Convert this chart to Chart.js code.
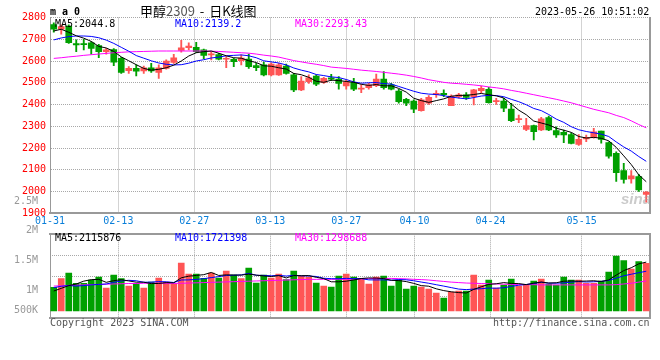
<!DOCTYPE html>
<html lang="zh-CN">
<head>
    <meta charset="UTF-8">
    <title>甲醇2309 - 日K线图</title>
    <style>
        body { margin: 0; background: #fff; }
        #box { position: relative; width: 660px; height: 360px; overflow: hidden;
               font-family: "DejaVu Sans Mono", monospace; font-size: 10px; line-height: 12px; }
        #box canvas { position: absolute; left: 0; }
        .txt { position: absolute; white-space: pre; }
    </style>
</head>
<body>
<div id="box">
    <canvas id="priceChart" width="660" height="232" style="top:0"></canvas>
    <canvas id="volChart" width="660" height="170" style="top:190px"></canvas>
    <div class="txt" style="left:50px;top:6px;font-weight:bold">m a 0</div>
    <div class="txt" style="left:140px;top:3px;font-family:'Noto Sans CJK SC';font-size:13px;line-height:15px;word-spacing:2px">甲醇<span style="color:#555">2309</span> - 日K线图</div>
    <div class="txt" style="left:535px;top:6px">2023-05-26 10:51:02</div>
    <div class="txt" style="left:50px;top:317px;color:#555">Copyright 2023 SINA.COM</div>
    <div class="txt" style="left:493px;top:317px;color:#555">http://finance.sina.com.cn</div>
    <div class="txt" style="left:621px;top:190px;font:italic bold 15px 'Liberation Sans';color:rgba(160,160,160,0.55)">sina</div>
</div>

<script src="https://cdn.jsdelivr.net/npm/chart.js@4/dist/chart.umd.min.js"></script>
<script>
    // trading days shown on the chart
    const dates = [
        '01-31', '02-01', '02-02', '02-03', '02-06', '02-07', '02-08', '02-09', '02-10', '02-13',
        '02-14', '02-15', '02-16', '02-17', '02-20', '02-21', '02-22', '02-23', '02-24', '02-27',
        '02-28', '03-01', '03-02', '03-03', '03-06', '03-07', '03-08', '03-09', '03-10', '03-13',
        '03-14', '03-15', '03-16', '03-17', '03-20', '03-21', '03-22', '03-23', '03-24', '03-27',
        '03-28', '03-29', '03-30', '03-31', '04-03', '04-04', '04-06', '04-07', '04-10', '04-11',
        '04-12', '04-13', '04-14', '04-17', '04-18', '04-19', '04-20', '04-21', '04-24', '04-25',
        '04-26', '04-27', '04-28', '05-04', '05-05', '05-08', '05-09', '05-10', '05-11', '05-12',
        '05-15', '05-16', '05-17', '05-18', '05-19', '05-22', '05-23', '05-24', '05-25', '05-26'
    ];

    const open = [
        2768, 2746, 2761, 2680, 2680, 2683, 2671, 2643, 2652, 2612,
        2556, 2566, 2554, 2569, 2548, 2566, 2594, 2649, 2661, 2663,
        2651, 2628, 2629, 2608, 2608, 2602, 2609, 2579, 2582, 2536,
        2536, 2577, 2536, 2467, 2505, 2531, 2502, 2523, 2517, 2485,
        2502, 2471, 2478, 2487, 2517, 2490, 2462, 2424, 2416, 2372,
        2406, 2445, 2451, 2395, 2436, 2444, 2436, 2464, 2470, 2413,
        2416, 2379, 2330, 2286, 2303, 2283, 2340, 2280, 2272, 2262,
        2217, 2242, 2249, 2278, 2225, 2176, 2096, 2058, 2069, 1987
    ];
    const high = [
        2776, 2766, 2766, 2697, 2700, 2689, 2677, 2658, 2657, 2617,
        2574, 2582, 2577, 2589, 2582, 2605, 2631, 2695, 2684, 2686,
        2655, 2643, 2635, 2620, 2612, 2628, 2632, 2589, 2595, 2592,
        2589, 2586, 2543, 2528, 2536, 2536, 2525, 2539, 2528, 2513,
        2520, 2490, 2497, 2540, 2551, 2497, 2470, 2429, 2421, 2429,
        2441, 2464, 2467, 2444, 2451, 2455, 2470, 2485, 2479, 2429,
        2429, 2406, 2352, 2337, 2306, 2341, 2347, 2298, 2283, 2270,
        2262, 2260, 2291, 2278, 2229, 2183, 2130, 2096, 2079, 2000
    ];
    const low = [
        2732, 2723, 2681, 2643, 2651, 2631, 2615, 2631, 2579, 2543,
        2543, 2531, 2543, 2548, 2520, 2562, 2589, 2641, 2651, 2638,
        2611, 2605, 2605, 2569, 2574, 2582, 2566, 2556, 2531, 2531,
        2534, 2540, 2459, 2464, 2497, 2487, 2497, 2510, 2471, 2471,
        2464, 2455, 2471, 2482, 2471, 2467, 2406, 2395, 2363, 2370,
        2401, 2433, 2436, 2395, 2429, 2424, 2398, 2455, 2406, 2401,
        2367, 2321, 2317, 2280, 2237, 2280, 2280, 2249, 2225, 2219,
        2212, 2229, 2245, 2222, 2153, 2046, 2038, 2038, 2000, 1951
    ];
    const close = [
        2746, 2758, 2684, 2674, 2675, 2658, 2643, 2651, 2595, 2548,
        2566, 2553, 2569, 2554, 2569, 2600, 2615, 2661, 2669, 2643,
        2626, 2632, 2609, 2612, 2597, 2614, 2574, 2569, 2536, 2586,
        2582, 2543, 2467, 2508, 2523, 2493, 2520, 2516, 2497, 2504,
        2471, 2476, 2490, 2517, 2478, 2471, 2413, 2406, 2379, 2421,
        2433, 2451, 2445, 2439, 2444, 2433, 2467, 2474, 2409, 2418,
        2383, 2326, 2335, 2303, 2275, 2334, 2283, 2260, 2260, 2221,
        2240, 2249, 2275, 2240, 2163, 2087, 2056, 2072, 2007, 1998
    ];

    const priceMa5 = [
        2738, 2746, 2732, 2716, 2705, 2690, 2667, 2660, 2644, 2619,
        2601, 2583, 2566, 2558, 2562, 2569, 2581, 2600, 2623, 2638,
        2643, 2646, 2636, 2624, 2615, 2613, 2601, 2593, 2578, 2576,
        2569, 2563, 2543, 2537, 2525, 2507, 2502, 2512, 2510, 2506,
        2502, 2493, 2488, 2492, 2486, 2486, 2474, 2457, 2429, 2418,
        2410, 2418, 2426, 2438, 2442, 2442, 2446, 2451, 2445, 2440,
        2430, 2402, 2374, 2353, 2324, 2315, 2306, 2291, 2282, 2272,
        2253, 2246, 2249, 2245, 2233, 2203, 2164, 2124, 2077, 2045
    ];
    const priceMa10 = [
        2697, 2706, 2712, 2715, 2715, 2713, 2707, 2696, 2681, 2663,
        2645, 2625, 2613, 2601, 2591, 2585, 2582, 2583, 2590, 2600,
        2606, 2614, 2618, 2624, 2626, 2628, 2624, 2615, 2601, 2596,
        2591, 2582, 2568, 2558, 2550, 2538, 2533, 2527, 2524, 2515,
        2504, 2498, 2500, 2501, 2496, 2494, 2483, 2472, 2461, 2452,
        2448, 2446, 2441, 2434, 2430, 2426, 2432, 2439, 2442, 2441,
        2436, 2424, 2413, 2399, 2382, 2372, 2354, 2333, 2318, 2298,
        2284, 2276, 2270, 2264, 2253, 2228, 2205, 2186, 2161, 2139
    ];
    const priceMa30 = [
        2612, 2615, 2619, 2622, 2626, 2629, 2632, 2635, 2638, 2640,
        2642, 2643, 2644, 2645, 2646, 2646, 2646, 2646, 2646, 2646,
        2646, 2645, 2644, 2642, 2640, 2638, 2636, 2632, 2627, 2623,
        2618, 2610, 2602, 2596, 2590, 2585, 2579, 2572, 2569, 2566,
        2562, 2558, 2555, 2552, 2548, 2544, 2540, 2535, 2529, 2522,
        2514, 2508, 2502, 2498, 2496, 2493, 2490, 2486, 2481, 2477,
        2472, 2465, 2459, 2452, 2445, 2438, 2431, 2424, 2416, 2408,
        2398, 2388, 2378, 2370, 2362, 2350, 2340, 2325, 2308, 2293
    ];

    const volume = [
        1025000, 1400000, 1645000, 1198000, 1198000, 1342000, 1472000, 996000, 1558000, 1400000,
        1082000, 1198000, 996000, 1255000, 1429000, 1255000, 1169000, 2078000, 1602000, 1602000,
        1414000, 1645000, 1429000, 1732000, 1558000, 1400000, 1861000, 1212000, 1558000, 1429000,
        1602000, 1356000, 1732000, 1515000, 1472000, 1212000, 1082000, 1039000, 1515000, 1602000,
        1472000, 1400000, 1169000, 1472000, 1515000, 1082000, 1342000, 952000, 1082000, 1039000,
        952000, 779000, 563000, 823000, 866000, 866000, 1558000, 1126000, 1342000, 996000,
        1126000, 1385000, 1082000, 1126000, 1299000, 1385000, 1169000, 1126000, 1472000, 1342000,
        1342000, 1198000, 1198000, 1299000, 1688000, 2381000, 2179000, 1818000, 2136000, 2064000
    ];
    const volMa5 = [
        866000, 980000, 1100000, 1170000, 1293000, 1357000, 1371000, 1241000, 1313000, 1354000,
        1302000, 1247000, 1247000, 1186000, 1192000, 1227000, 1221000, 1437000, 1507000, 1541000,
        1573000, 1668000, 1538000, 1564000, 1556000, 1553000, 1596000, 1553000, 1518000, 1492000,
        1532000, 1431000, 1535000, 1527000, 1535000, 1457000, 1403000, 1264000, 1264000, 1290000,
        1342000, 1406000, 1432000, 1423000, 1406000, 1328000, 1316000, 1273000, 1195000, 1099000,
        1073000, 961000, 883000, 831000, 797000, 779000, 935000, 1048000, 1152000, 1178000,
        1230000, 1195000, 1186000, 1143000, 1204000, 1255000, 1212000, 1221000, 1290000, 1299000,
        1290000, 1296000, 1310000, 1276000, 1345000, 1553000, 1749000, 1873000, 2040000, 2116000
    ];
    const volMa10 = [
        1010000, 1070000, 1100000, 1080000, 1100000, 1130000, 1150000, 1170000, 1240000, 1300000,
        1329000, 1309000, 1244000, 1250000, 1273000, 1264000, 1234000, 1342000, 1346000, 1367000,
        1400000, 1445000, 1488000, 1536000, 1548000, 1563000, 1632000, 1546000, 1541000, 1524000,
        1543000, 1514000, 1544000, 1522000, 1514000, 1495000, 1417000, 1400000, 1395000, 1413000,
        1400000, 1404000, 1348000, 1344000, 1348000, 1335000, 1361000, 1352000, 1309000, 1253000,
        1201000, 1138000, 1078000, 1013000, 948000, 926000, 948000, 965000, 991000, 987000,
        1005000, 1065000, 1117000, 1147000, 1191000, 1243000, 1204000, 1204000, 1217000, 1251000,
        1273000, 1254000, 1266000, 1283000, 1322000, 1422000, 1523000, 1592000, 1658000, 1721000
    ];
    const volMa30 = [
        1080000, 1090000, 1110000, 1120000, 1130000, 1140000, 1150000, 1160000, 1170000, 1180000,
        1190000, 1190000, 1200000, 1200000, 1200000, 1200000, 1190000, 1200000, 1210000, 1220000,
        1230000, 1240000, 1250000, 1260000, 1270000, 1280000, 1290000, 1300000, 1310000, 1320000,
        1330000, 1340000, 1350000, 1360000, 1370000, 1370000, 1370000, 1370000, 1370000, 1370000,
        1380000, 1390000, 1400000, 1410000, 1410000, 1410000, 1400000, 1390000, 1370000, 1360000,
        1340000, 1310000, 1280000, 1250000, 1230000, 1210000, 1200000, 1190000, 1180000, 1170000,
        1160000, 1150000, 1150000, 1140000, 1140000, 1130000, 1130000, 1130000, 1130000, 1130000,
        1130000, 1130000, 1130000, 1130000, 1130000, 1140000, 1170000, 1200000, 1250000, 1299000
    ];

    const dateTicks = ['01-31', '02-13', '02-27', '03-13', '03-27', '04-10', '04-24', '05-15'];
    const volTicks = [500000, 1000000, 1500000, 2000000, 2500000];
    const volTickLabels = ['500K', '1M', '1.5M', '2M', '2.5M'];

    const maNames = ['MA5', 'MA10', 'MA30'];
    const priceMaNow = ['2044.8', '2139.2', '2293.43'];
    const volMaNow = ['2115876', '1721398', '1298688'];

    const RED = '#ff5555';
    const GREEN = '#00a000';
    const GRID = '#a8a8a8';
    const FRAME = '#999999';
    const maColors = ['#000000', '#0000ff', '#ff00ff'];

    const n = dates.length;
    const candleColor = close.map((c, i) => c >= open[i] ? RED : GREEN);
    const pts = arr => arr.map((v, i) => ({ x: i, y: v }));

    Chart.defaults.font.family = '"DejaVu Sans Mono", monospace';
    Chart.defaults.font.size = 10;

    // legend texts across the top of each panel
    function addLegend(values, top) {
        const box = document.getElementById('box');
        maNames.forEach((name, k) => {
            const d = document.createElement('div');
            d.className = 'txt';
            d.style.left = (55 + k * 120) + 'px';
            d.style.top = top + 'px';
            d.style.color = maColors[k];
            d.textContent = name + ':' + values[k];
            box.appendChild(d);
        });
    }
    addLegend(priceMaNow, 18);
    addLegend(volMaNow, 232);

    function maLine(values, color, axis) {
        return {
            type: 'line', data: pts(values), yAxisID: axis,
            borderColor: color, borderWidth: 1, pointRadius: 0, tension: 0, order: 0
        };
    }

    // Sina spreads the date grid over n-1 steps while the bars take n slots
    function dateGrid(scale) {
        scale.ticks = dateTicks.map(d => ({ value: dates.indexOf(d) * n / (n - 1) - 0.5 }));
    }

    function xAxis(showLabels, height) {
        return {
            type: 'linear', min: -0.5, max: n - 0.5, offset: false,
            grid: { offset: false, color: GRID, drawTicks: false },
            border: { color: FRAME, width: 2, dash: [1, 1] },
            ticks: {
                display: showLabels, color: '#0a7fd9', padding: 2, autoSkip: false, maxRotation: 0,
                callback: (v, i) => dateTicks[i]
            },
            afterBuildTicks: dateGrid,
            afterFit: s => { s.height = height; }
        };
    }

    function frameAxis(position) {
        return {
            position: position, display: true,
            ticks: { display: false }, grid: { display: false },
            border: { color: FRAME, width: 2 },
            afterFit: s => { if (s.isHorizontal()) s.height = 0; else s.width = 0; }
        };
    }

    new Chart(document.getElementById('priceChart'), {
        type: 'bar',
        data: {
            datasets: [
                maLine(priceMa5, maColors[0], 'y'),
                maLine(priceMa10, maColors[1], 'y'),
                maLine(priceMa30, maColors[2], 'y'),
                {
                    data: dates.map((d, i) => ({ x: i, y: [low[i], high[i]] })),
                    backgroundColor: candleColor, barThickness: 1.2, grouped: false, order: 2
                },
                {
                    data: dates.map((d, i) => ({ x: i, y: [open[i], close[i]] })),
                    backgroundColor: candleColor, barThickness: 6, minBarLength: 1, grouped: false, order: 1
                }
            ]
        },
        options: {
            responsive: false, animation: false, devicePixelRatio: 1,
            layout: { padding: { top: 17.5, right: 10, left: 0, bottom: 0 } },
            plugins: { legend: { display: false }, tooltip: { enabled: false } },
            scales: {
                x: xAxis(true, 18.7),
                y: {
                    position: 'left', min: 1900, max: 2800, beginAtZero: false,
                    ticks: { stepSize: 100, color: '#ff0000', padding: 4, callback: v => String(v) },
                    grid: { color: GRID, drawTicks: false },
                    border: { color: FRAME, width: 1, dash: [1, 1] },
                    afterFit: s => { s.width = 50; }
                },
                yr: frameAxis('right')
            }
        }
    });

    new Chart(document.getElementById('volChart'), {
        type: 'bar',
        data: {
            datasets: [
                maLine(volMa5, maColors[0], 'yv'),
                maLine(volMa10, maColors[1], 'yv'),
                maLine(volMa30, maColors[2], 'yv'),
                {
                    data: pts(volume), yAxisID: 'yv',
                    backgroundColor: candleColor, barThickness: 6, grouped: false, order: 1
                }
            ]
        },
        options: {
            responsive: false, animation: false, devicePixelRatio: 1,
            layout: { padding: { top: 0, right: 10, left: 0, bottom: 0 } },
            plugins: { legend: { display: false }, tooltip: { enabled: false } },
            scales: {
                x: xAxis(false, 42.3),
                xt: Object.assign(frameAxis('top'), { afterFit: s => { s.height = 44.3; } }),
                yl: {
                    position: 'left', min: 533000, max: 1939000,
                    ticks: { color: '#999999', padding: 4, autoSkip: false, callback: (v, i) => volTickLabels[i] },
                    grid: { display: false },
                    border: { color: FRAME, width: 1 },
                    // Sina pins its lowest label to the bar baseline
                    afterBuildTicks: s => { s.ticks = volTicks.map(v => ({ value: Math.max(v, 650000) })); },
                    afterFit: s => { s.width = 50; }
                },
                yv: {
                    position: 'right', min: -290000, max: 3320000, beginAtZero: false,
                    ticks: { display: false },
                    grid: { color: GRID, drawTicks: false },
                    border: { color: FRAME, width: 2, dash: [1, 1] },
                    afterBuildTicks: s => {
                        s.ticks = [0.25, 0.5, 0.75].map(f => ({ value: s.min + (s.max - s.min) * f }));
                    },
                    afterFit: s => { s.width = 0; }
                }
            }
        }
    });
</script>
</body>
</html>
